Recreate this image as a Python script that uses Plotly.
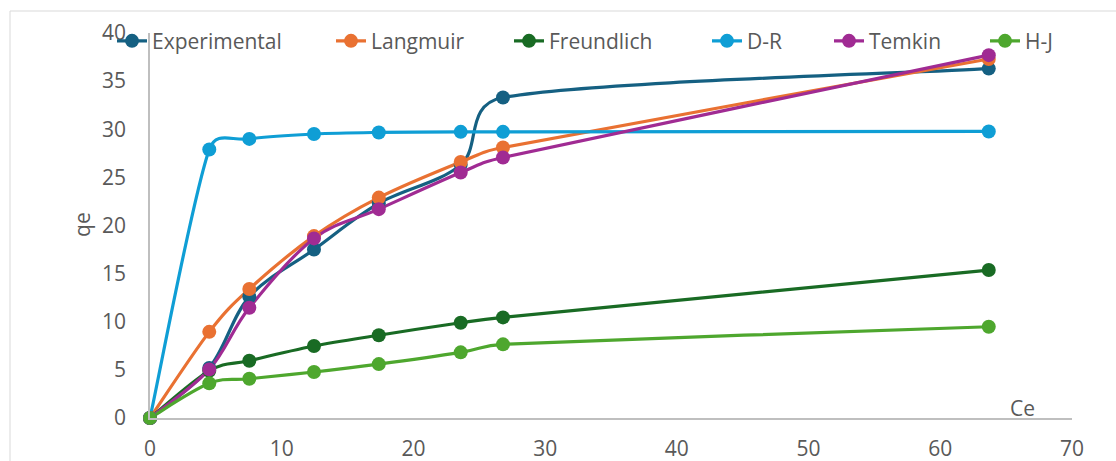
import math
import plotly.graph_objects as go

# Equilibrium concentration Ce (shared by all series)
ce = [0, 4.5, 7.54, 12.45, 17.37, 23.59, 26.8, 63.68]

# Adsorbed amount qe: measured values and isotherm model fits
experimental = [0, 5.2, 12.6, 17.5, 22.3, 26.3, 33.3, 36.3]
langmuir = [0, 8.95, 13.4, 18.9, 22.9, 26.6, 28.1, 37.3]
freundlich = [0, 4.9, 5.95, 7.48, 8.6, 9.9, 10.45, 15.37]
dr = [0, 27.9, 29.0, 29.5, 29.67, 29.73, 29.73, 29.77]
temkin = [0, 5.05, 11.45, 18.66, 21.7, 25.5, 27.07, 37.7]
hj = [0, 3.6, 4.08, 4.78, 5.6, 6.82, 7.65, 9.48]

series_names = ["Experimental", "Langmuir", "Freundlich", "D-R", "Temkin", "H-J"]
series_values = [experimental, langmuir, freundlich, dr, temkin, hj]
colors = ["#156082", "#E97132", "#196B24", "#0F9ED5", "#A02B93", "#4EA72E"]
legend_widths = [174, 133, 153, 77, 111, 40]

x_ticks = [0, 10, 20, 30, 40, 50, 60, 70]
y_ticks = [0, 5, 10, 15, 20, 25, 30, 35, 40]
X_RANGE = [0, 70]
Y_RANGE = [0, 40]

W, H = 1116, 461
M_L, M_R, M_T, M_B = 150, 44, 33, 43
FONT = "Open Sans"
GREY = "#595959"
LINE_W = 3.2
MARKER_SIZE = 14

# pixels per data unit, so the smoothing works in screen space
kx = (W - M_L - M_R) / (X_RANGE[1] - X_RANGE[0])
ky = (H - M_T - M_B) / (Y_RANGE[1] - Y_RANGE[0])


def smooth_path(xs, ys):
    """Cubic Bezier path through the points (spreadsheet-style smoothed line)."""
    pts = [(x * kx, y * ky) for x, y in zip(xs, ys)]
    n = len(pts)
    tans = []
    for i in range(n):
        p0 = pts[max(i - 1, 0)]
        p2 = pts[min(i + 1, n - 1)]
        tans.append(((p2[0] - p0[0]) / 6.0, (p2[1] - p0[1]) / 6.0))

    def limit(t, max_len):
        ln = math.hypot(*t)
        if ln > max_len and ln > 0:
            s = max_len / ln
            return (t[0] * s, t[1] * s)
        return t

    d = f"M {xs[0]},{ys[0]}"
    for i in range(n - 1):
        seg = math.hypot(pts[i + 1][0] - pts[i][0], pts[i + 1][1] - pts[i][1])
        a = limit(tans[i], seg / 2)
        b = limit(tans[i + 1], seg / 2)
        c1 = ((pts[i][0] + a[0]) / kx, (pts[i][1] + a[1]) / ky)
        c2 = ((pts[i + 1][0] - b[0]) / kx, (pts[i + 1][1] - b[1]) / ky)
        d += (f" C {c1[0]:.4f},{c1[1]:.4f} {c2[0]:.4f},{c2[1]:.4f}"
              f" {xs[i + 1]},{ys[i + 1]}")
    return d


fig = go.Figure()
shapes = []
for name, vals, col, lw in zip(series_names, series_values, colors, legend_widths):
    # smoothed connecting line
    shapes.append(dict(type="path", xref="x", yref="y", path=smooth_path(ce, vals),
                       line=dict(color=col, width=LINE_W), layer="between"))
    # data markers
    fig.add_trace(go.Scatter(
        x=ce, y=vals, name=name, mode="markers", showlegend=False,
        marker=dict(color=col, size=MARKER_SIZE, line=dict(width=0)),
        cliponaxis=False,
    ))
    # legend entry (line + marker)
    fig.add_trace(go.Scatter(
        x=[None], y=[None], name=name, mode="lines+markers",
        line=dict(color=col, width=LINE_W),
        marker=dict(color=col, size=MARKER_SIZE, line=dict(width=0)),
        legendwidth=lw, showlegend=True,
    ))

# outer chart frame
shapes.append(dict(type="rect", xref="paper", yref="paper",
                   x0=(10 - M_L) / (W - M_L - M_R), x1=1.08,
                   y0=-0.3, y1=(H - M_B - 11) / (H - M_T - M_B),
                   line=dict(color="#D9D9D9", width=1),
                   fillcolor="rgba(0,0,0,0)", layer="below"))

fig.update_layout(
    width=W, height=H,
    margin=dict(l=M_L, r=M_R, t=M_T, b=M_B, autoexpand=False),
    paper_bgcolor="white", plot_bgcolor="white",
    font=dict(family=FONT, size=21, color=GREY),
    showlegend=True,
    legend=dict(
        orientation="h", x=(112 - M_L) / (W - M_L - M_R), xanchor="left",
        y=1.032, yanchor="top",
        bgcolor="rgba(0,0,0,0)", font=dict(family=FONT, size=21, color=GREY),
        itemwidth=30,
    ),
    xaxis=dict(
        range=X_RANGE, tickvals=x_ticks, showgrid=False, zeroline=False,
        showline=True, linecolor="#BFBFBF", linewidth=1.5, ticks="",
        automargin=False, ticklabelstandoff=11,
        tickfont=dict(family=FONT, size=21, color=GREY),
    ),
    yaxis=dict(
        range=Y_RANGE, tickvals=y_ticks, showgrid=False, zeroline=False,
        showline=True, linecolor="#BFBFBF", linewidth=1.5, ticks="",
        automargin=False, ticklabelstandoff=18,
        tickfont=dict(family=FONT, size=21, color=GREY),
    ),
    annotations=[
        dict(text="qe", xref="paper", yref="paper", x=-0.0738, y=0.504,
             showarrow=False, textangle=-90, xanchor="center", yanchor="middle",
             font=dict(family=FONT, size=21, color=GREY)),
        dict(text="Ce", xref="paper", yref="paper", x=0.9458, y=0.026,
             showarrow=False, xanchor="center", yanchor="middle",
             font=dict(family=FONT, size=21, color=GREY)),
    ],
    shapes=shapes,
)

fig.write_html("out.html")
